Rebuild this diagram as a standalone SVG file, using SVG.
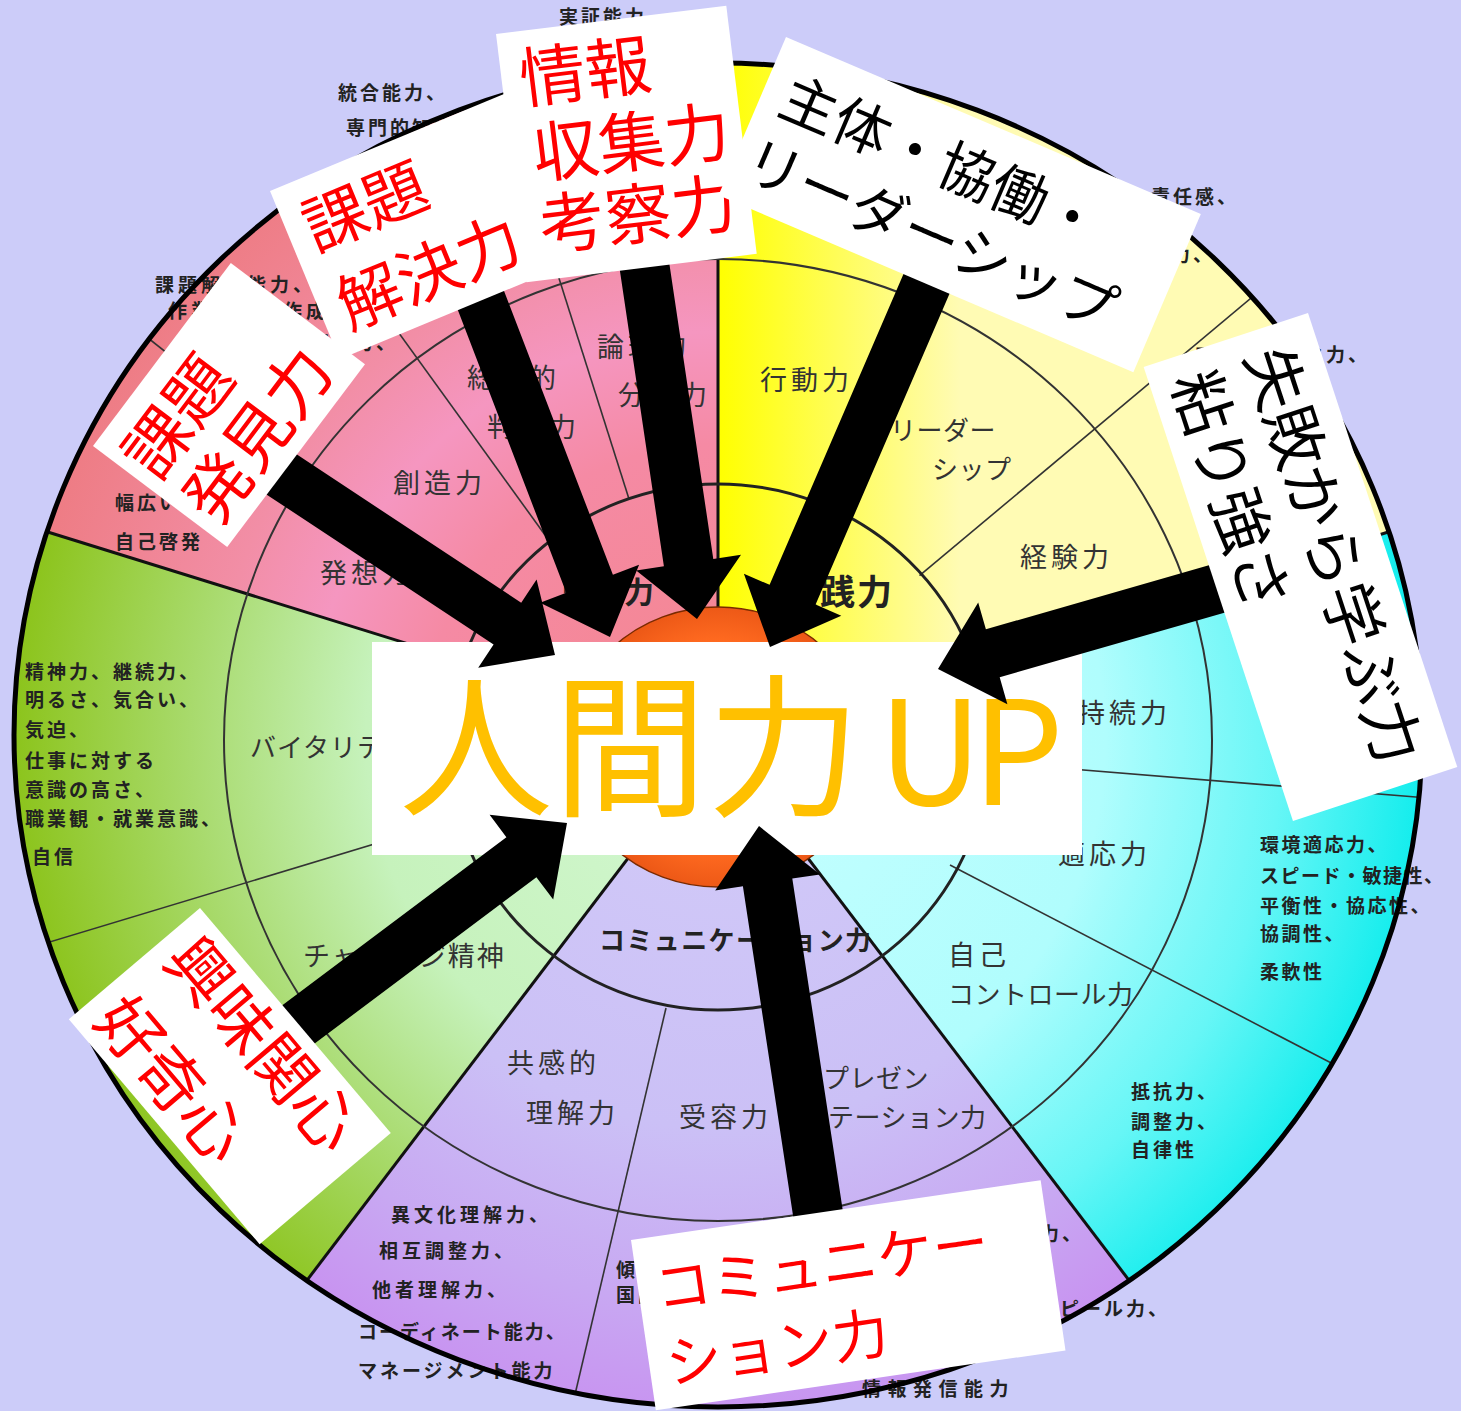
<svg xmlns="http://www.w3.org/2000/svg" width="1461" height="1411" viewBox="0 0 1461 1411">
<defs>
<style>
text{font-family:"Noto Sans CJK JP","Noto Sans CJK SC",sans-serif}
.o{font-size:19px;font-weight:700;letter-spacing:3px;fill:#222}
.m{font-size:27px;letter-spacing:4px;fill:#333}
.mk{font-size:26px;letter-spacing:0.5px;fill:#333}
.in{font-weight:700;fill:#222}
.red{fill:#ff0000}
.blk{fill:#000000}
.box{fill:#ffffff}
.arr{fill:#000000}
.sub{stroke:#333;stroke-width:1.6;fill:none}
.main{stroke:#111;stroke-width:3;fill:none}
</style>
<clipPath id="clipW"><ellipse cx="718" cy="735" rx="704" ry="672"/></clipPath>
<radialGradient id="gPink" gradientUnits="userSpaceOnUse" cx="718" cy="740" r="704">
<stop offset="0" stop-color="#f4868e"/>
<stop offset="0.42" stop-color="#f58aa4"/>
<stop offset="0.58" stop-color="#f596c0"/>
<stop offset="0.72" stop-color="#f28ea6"/>
<stop offset="1" stop-color="#ee7c84"/>
</radialGradient>
<linearGradient id="gYel" gradientUnits="userSpaceOnUse" x1="718" y1="0" x2="960" y2="0">
<stop offset="0" stop-color="#ffff00"/>
<stop offset="1" stop-color="#fffbb4"/>
</linearGradient>
<radialGradient id="gCyan" gradientUnits="userSpaceOnUse" cx="718" cy="740" r="704">
<stop offset="0" stop-color="#c8ffff"/>
<stop offset="0.55" stop-color="#b0fdfd"/>
<stop offset="0.8" stop-color="#66f6f6"/>
<stop offset="1" stop-color="#14eded"/>
</radialGradient>
<radialGradient id="gPur" gradientUnits="userSpaceOnUse" cx="718" cy="740" r="704">
<stop offset="0" stop-color="#d2cbf8"/>
<stop offset="0.55" stop-color="#cbc0f6"/>
<stop offset="0.8" stop-color="#c8a8f2"/>
<stop offset="1" stop-color="#c88ff0"/>
</radialGradient>
<radialGradient id="gGrn" gradientUnits="userSpaceOnUse" cx="718" cy="740" r="704">
<stop offset="0" stop-color="#d4f8d4"/>
<stop offset="0.5" stop-color="#c6f2bc"/>
<stop offset="0.75" stop-color="#a8da6c"/>
<stop offset="1" stop-color="#8cc41c"/>
</radialGradient>
<radialGradient id="gCore" gradientUnits="userSpaceOnUse" cx="718" cy="747" r="150">
<stop offset="0" stop-color="#ff8a3a"/>
<stop offset="0.7" stop-color="#ff6a20"/>
<stop offset="1" stop-color="#e85414"/>
</radialGradient>
</defs>

<rect x="0" y="0" width="1461" height="1411" fill="#ccccf9"/>

<g id="wheel">
<g clip-path="url(#clipW)">
<path fill="url(#gPink)" d="M718,740 L-708.6,297.3 L718,-692.5 Z"/>
<path fill="url(#gYel)" d="M718,740 L718,-692.5 L2144.6,297.3 Z"/>
<path fill="url(#gCyan)" d="M718,740 L2144.6,297.3 L1599.7,1898.9 Z"/>
<path fill="url(#gPur)" d="M718,740 L1599.7,1898.9 L-163.7,1898.9 Z"/>
<path fill="url(#gGrn)" d="M718,740 L-163.7,1898.9 L-708.6,297.3 Z"/>
<path class="sub" d="M490,609 L100,300"/>
<path class="sub" d="M545,535 L260,141"/>
<path class="sub" d="M629,499 L557,272"/>
<path class="sub" d="M830,510.6 L930,300"/>
<path class="sub" d="M919.5,575.7 L1300,257"/>
<path class="sub" d="M985,762 L1440,799"/>
<path class="sub" d="M950,865 L1360,1078"/>
<path class="sub" d="M777.6,986.6 L829.2,1199.7"/>
<path class="sub" d="M666,1008 L569,1420"/>
<path class="sub" d="M465.4,816.5 L0,957"/>
<path class="main" d="M718,740 L33.2,527.5"/>
<path class="main" d="M718,740 L718,40"/>
<path class="main" d="M718,740 L1402.8,527.5"/>
<path class="main" d="M718,740 L1141.2,1296.3"/>
<path class="main" d="M718,740 L294.8,1296.3"/>
</g>
<ellipse cx="718" cy="740" rx="494" ry="481" fill="none" stroke="#333" stroke-width="2"/>
<ellipse cx="718" cy="747" rx="270" ry="263" fill="none" stroke="#222" stroke-width="3"/>
<ellipse cx="718" cy="747" rx="150" ry="140" fill="url(#gCore)" stroke="#7a2a00" stroke-width="1.5"/>

<!-- outer ring texts -->
<text class="o" x="559" y="24">実証能力</text>
<text class="o" x="338" y="100">統合能力、</text>
<text class="o" x="346" y="135">専門的知識、</text>
<text class="o" x="155" y="292" style="letter-spacing:4px">課題解決能力、</text>
<text class="o" x="168" y="318" style="letter-spacing:4px">作業手順の作成</text>
<text class="o" x="244" y="350">計画立案能力、</text>
<text class="o" x="115" y="510">幅広い視野、</text>
<text class="o" x="115" y="549">自己啓発</text>
<text class="o" x="1151" y="204">責任感、</text>
<text class="o" x="1127" y="262">実行力、</text>
<text class="o" x="1194" y="362">フットワーク力、</text>
<text class="o" x="1260" y="852" style="letter-spacing:2.5px">環境適応力、</text>
<text class="o" x="1260" y="883" style="letter-spacing:1.5px">スピード・敏捷性、</text>
<text class="o" x="1260" y="913" style="letter-spacing:2.5px">平衡性・協応性、</text>
<text class="o" x="1260" y="941" style="letter-spacing:2.5px">協調性、</text>
<text class="o" x="1260" y="979" style="letter-spacing:2.5px">柔軟性</text>
<text class="o" x="1131" y="1099">抵抗力、</text>
<text class="o" x="1131" y="1129">調整力、</text>
<text class="o" x="1131" y="1157">自律性</text>
<text class="o" x="391" y="1222" style="letter-spacing:4px">異文化理解力、</text>
<text class="o" x="379" y="1258" style="letter-spacing:4px">相互調整力、</text>
<text class="o" x="372" y="1297" style="letter-spacing:4px">他者理解力、</text>
<text class="o" x="358" y="1339" style="letter-spacing:2px">コーディネート能力、</text>
<text class="o" x="358" y="1378">マネージメント能力</text>
<text class="o" x="616" y="1277">傾聴力、</text>
<text class="o" x="616" y="1302">国際感覚、</text>
<text class="o" x="996" y="1241">説明力、</text>
<text class="o" x="980" y="1277">交渉力、</text>
<text class="o" x="994" y="1316">自己アピール力、</text>
<text class="o" x="862" y="1396" style="letter-spacing:6.5px">情報発信能力</text>
<text class="o" x="25" y="679">精神力、継続力、</text>
<text class="o" x="25" y="707">明るさ、気合い、</text>
<text class="o" x="25" y="737">気迫、</text>
<text class="o" x="25" y="768">仕事に対する</text>
<text class="o" x="25" y="797">意識の高さ、</text>
<text class="o" x="25" y="826">職業観・就業意識、</text>
<text class="o" x="32" y="864">自信</text>

<!-- middle ring texts -->
<text class="m" x="320" y="583">発想力</text>
<text class="m" x="393" y="493">創造力</text>
<text class="m" x="467" y="388">総合的</text>
<text class="m" x="487" y="437">判断力</text>
<text class="m" x="597" y="357">論理的</text>
<text class="m" x="618" y="405">分析力</text>
<text class="m" x="760" y="390">行動力</text>
<text class="mk" x="890" y="440">リーダー</text>
<text class="mk" x="932" y="479">シップ</text>
<text class="m" x="1020" y="567">経験力</text>
<text class="m" x="1078" y="723">持続力</text>
<text class="m" x="1058" y="864">適応力</text>
<text class="m" x="948" y="965">自己</text>
<text class="mk" x="948" y="1004">コントロール力</text>
<text class="mk" x="250" y="757" style="letter-spacing:1px">バイタリティ</text>
<text class="m" x="303" y="966" style="letter-spacing:2px">チャレンジ精神</text>
<text class="m" x="507" y="1073">共感的</text>
<text class="m" x="526" y="1123">理解力</text>
<text class="m" x="679" y="1127">受容力</text>
<text class="mk" x="823" y="1088">プレゼン</text>
<text class="mk" x="828" y="1127">テーション力</text>

<!-- inner ring texts -->
<text class="in" x="560" y="603" style="font-size:30px;letter-spacing:2px">思考力</text>
<text class="in" x="783" y="605" style="font-size:35px;letter-spacing:2px">実践力</text>
<text class="in" x="599" y="950" style="font-size:26px;letter-spacing:1.4px">コミュニケーション力</text>

<ellipse cx="718" cy="735" rx="704" ry="672" fill="none" stroke="#000" stroke-width="5"/>
</g>

<g id="center">
<rect class="box" x="372" y="642" width="710" height="213"/>
<text x="399" y="805" fill="#ffc000" style="font-size:154px">人間力<tspan x="878 972" style="font-size:145px">UP</tspan></text>
</g>

<g id="connectors">
<polygon class="arr" points="284.1,446.1 521.2,602.7 536.6,579.4 555,655 478.2,667.8 493.6,644.5 256.5,487.9"/>
<polygon class="arr" points="496.1,270.3 612.9,574.8 639.1,564.8 610,637 540.1,602.8 566.3,592.8 449.5,288.3"/>
<polygon class="arr" points="666.8,246.5 713.3,558.9 741.0,554.8 697,619 636.2,570.4 663.9,566.3 617.4,253.9"/>
<polygon class="arr" points="953.9,283.5 815.6,604.6 841.3,615.7 770,647 743.9,573.7 769.6,584.8 907.9,263.7"/>
<polygon class="arr" points="1232.3,558.5 985.9,629.3 978.2,602.4 938,669 1007.4,704.2 999.7,677.3 1246.1,606.5"/>
<polygon class="arr" points="276,1010 506.4,837.2 489.6,814.8 567,823 553.2,899.6 536.4,877.2 306,1050"/>
<polygon class="arr" points="844.7,1223.0 792.3,878.6 820,874.4 759,826 715.2,890.4 742.9,886.2 795.3,1230.6"/>
</g>

<g id="box-kaiketsu" transform="translate(270,191) rotate(-22.5)">
<rect class="box" width="310" height="182"/>
<text class="red" style="font-size:64px"><tspan x="18" y="74">課題</tspan><tspan x="20" y="159">解決力</tspan></text>
</g>
<g id="box-hakken" transform="translate(93,446) rotate(-53)">
<rect class="box" width="229" height="168"/>
<text class="red" style="font-size:66px"><tspan x="9" y="74">課題</tspan><tspan x="9" y="149">発見力</tspan></text>
</g>
<g id="box-joho" transform="translate(496,34) rotate(-7)">
<rect class="box" width="232" height="250"/>
<text class="red" style="font-size:66px"><tspan x="18" y="72">情報</tspan><tspan x="22" y="148">収集力</tspan><tspan x="20" y="220">考察力</tspan></text>
</g>
<g id="box-shutai" transform="translate(786,37) rotate(23.1)">
<rect class="box" width="451" height="172"/>
<text class="blk" style="font-size:57px"><tspan x="20" y="74">主体・協働・</tspan><tspan x="12" y="146">リーダーシップ</tspan></text>
</g>
<g id="box-shippai" transform="translate(1308,313) rotate(71.8)">
<rect class="box" width="478" height="173"/>
<text class="blk" style="font-size:62px"><tspan x="21" y="74">失敗から学ぶ力</tspan><tspan x="21" y="151">粘り強さ</tspan></text>
</g>
<g id="box-kyomi" transform="translate(200,908) rotate(49.7)">
<rect class="box" width="295" height="172"/>
<text class="red" style="font-size:64px"><tspan x="16" y="64">興味関心</tspan><tspan x="16" y="156">好奇心</tspan></text>
</g>
<g id="box-comm" transform="translate(631,1240) rotate(-8.3)">
<rect class="box" width="414" height="172"/>
<text class="red" style="font-size:56px"><tspan x="17" y="73">コミュニケー</tspan><tspan x="17" y="148">ション力</tspan></text>
</g>
</svg>
